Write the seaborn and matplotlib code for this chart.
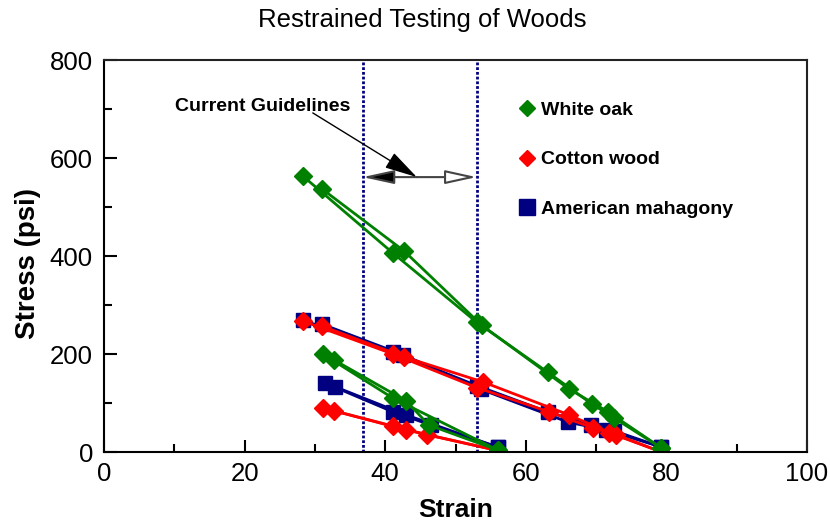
import matplotlib
matplotlib.use("Agg")
import matplotlib.pyplot as plt
from matplotlib.lines import Line2D
from matplotlib.ticker import MultipleLocator
import seaborn as sns
import pandas as pd

# === Data ===
woods = ["American mahagony", "Cotton wood", "White oak"]
colors = {"White oak": "#008000", "Cotton wood": "#ff0000", "American mahagony": "#000080"}
markers = {"White oak": "D", "Cotton wood": "D", "American mahagony": "s"}

# white oak, upper pair
oak_a_x = [28.3, 41.1, 53.0, 63.1, 69.4, 72.6, 79.3]
oak_a_y = [563, 406, 265, 163, 98, 69, 8]
oak_b_x = [31.0, 42.7, 53.7, 66.1, 71.7, 79.3]
oak_b_y = [537, 410, 259, 129, 82, 8]
# white oak, lower pair
oak_c_x = [31.1, 41.1, 56.0]
oak_c_y = [200, 110, 4]
oak_d_x = [32.7, 43.0, 46.2, 56.0]
oak_d_y = [188, 104, 55, 4]

# cotton wood, upper pair
cot_a_x = [28.3, 41.1, 53.1, 63.3, 69.6, 72.9, 79.3]
cot_a_y = [267, 200, 131, 82, 49, 35, 0]
cot_b_x = [31.0, 42.7, 53.9, 66.1, 71.9, 79.3]
cot_b_y = [257, 194, 143, 76, 39, 0]
# cotton wood, lower pair
cot_c_x = [31.1, 41.1, 46.0, 56.0]
cot_c_y = [90, 53, 35, 3]
cot_d_x = [32.7, 43.0, 56.0]
cot_d_y = [84, 45, 3]

# american mahagony, upper pair
mah_a_x = [28.3, 41.1, 53.1, 63.1, 69.3, 72.6, 79.3]
mah_a_y = [269, 204, 135, 82, 55, 43, 10]
mah_b_x = [31.0, 42.6, 53.6, 66.0, 71.4, 79.3]
mah_b_y = [261, 198, 128, 61, 45, 10]
# american mahagony, lower pair
mah_c_x = [31.4, 41.1, 46.5, 56.0]
mah_c_y = [141, 82, 55, 10]
mah_d_x = [32.9, 42.9, 56.0]
mah_d_y = [133, 76, 10]

guide_lo, guide_hi = 36.8, 53.0

tests = [
    ("White oak", "a", oak_a_x, oak_a_y), ("White oak", "b", oak_b_x, oak_b_y),
    ("White oak", "c", oak_c_x, oak_c_y), ("White oak", "d", oak_d_x, oak_d_y),
    ("Cotton wood", "a", cot_a_x, cot_a_y), ("Cotton wood", "b", cot_b_x, cot_b_y),
    ("Cotton wood", "c", cot_c_x, cot_c_y), ("Cotton wood", "d", cot_d_x, cot_d_y),
    ("American mahagony", "a", mah_a_x, mah_a_y), ("American mahagony", "b", mah_b_x, mah_b_y),
    ("American mahagony", "c", mah_c_x, mah_c_y), ("American mahagony", "d", mah_d_x, mah_d_y),
]
rows = []
for wood, test, xs, ys in tests:
    for x, y in zip(xs, ys):
        rows.append({"wood": wood, "test": test, "strain": x, "stress": y})
df = pd.DataFrame(rows)

# === Plot ===
sns.set_style("ticks")
plt.rcParams["font.family"] = ["Liberation Sans", "DejaVu Sans"]
plt.rcParams.update({"text.color": "black", "axes.labelcolor": "black",
                     "xtick.color": "black", "ytick.color": "black", "axes.edgecolor": "black"})

fig = plt.figure(figsize=(8.3, 5.22), dpi=100)
ax = fig.add_axes([104 / 830, 70 / 522, 703 / 830, 392 / 522])

for wood in woods:
    sub = df[df["wood"] == wood]
    ms = 10.5 if markers[wood] == "s" else 9
    sns.lineplot(data=sub, x="strain", y="stress", units="test", estimator=None,
                 sort=False, color=colors[wood], marker=markers[wood], markersize=ms,
                 markeredgecolor=colors[wood], markeredgewidth=1, lw=2, legend=False, ax=ax)

# guideline band
for gx in (guide_lo, guide_hi):
    ax.axvline(gx, color="#000080", ls=(0, (1.0, 0.7)), lw=2, zorder=1)

mid = 44.5
ax.annotate("", xy=(guide_lo, 561), xytext=(mid, 561),
            arrowprops=dict(arrowstyle="-|>,head_length=1.6,head_width=0.35", mutation_scale=12,
                            fc="black", ec="#444444", lw=1.5, shrinkA=0, shrinkB=0))
ax.annotate("", xy=(guide_hi, 561), xytext=(mid, 561),
            arrowprops=dict(arrowstyle="-|>,head_length=1.6,head_width=0.35", mutation_scale=12,
                            fc="white", ec="#444444", lw=1.5, shrinkA=0, shrinkB=0))
ax.annotate("", xy=(mid, 561), xytext=(29.7, 692),
            arrowprops=dict(arrowstyle="-|>,head_length=1.7,head_width=0.45", mutation_scale=12,
                            fc="black", ec="black", lw=1, shrinkA=0, shrinkB=0))
ax.text(10.1, 706, "Current Guidelines", fontsize=14, fontweight="bold", ha="left", va="center")

ax.set_xlim(0, 100)
ax.set_ylim(0, 800)
ax.xaxis.set_major_locator(MultipleLocator(20))
ax.xaxis.set_minor_locator(MultipleLocator(10))
ax.yaxis.set_major_locator(MultipleLocator(200))
ax.yaxis.set_minor_locator(MultipleLocator(100))
ax.tick_params(which="both", direction="in", width=1.5, top=False, right=False, labelsize=18.5)
ax.tick_params(axis="x", which="major", length=9, pad=7)
ax.tick_params(axis="y", which="major", length=9, pad=8)
ax.tick_params(which="minor", length=6)
for s in ax.spines.values():
    s.set_visible(True)
    s.set_linewidth(1.5)
ax.spines["right"].set_color("#222222")
ax.spines["top"].set_color("#222222")

ax.set_xlabel("Strain", fontsize=19, fontweight="bold", labelpad=9)
ax.set_ylabel("Stress (psi)", fontsize=20, fontweight="bold")
ax.yaxis.set_label_coords(-0.09, 0.48)
fig.text(0.509, 1 - 20 / 522, "Restrained Testing of Woods", fontsize=18.5, ha="center", va="center")

handles = [
    Line2D([], [], ls="none", marker="D", ms=8, color=colors["White oak"]),
    Line2D([], [], ls="none", marker="D", ms=8, color=colors["Cotton wood"]),
    Line2D([], [], ls="none", marker="s", ms=11, color=colors["American mahagony"]),
]
leg = ax.legend(handles, ["White oak", "Cotton wood", "American mahagony"],
                loc="upper left", bbox_to_anchor=(0.563, 0.94), frameon=False,
                prop={"weight": "bold", "size": 14}, labelspacing=1.65,
                handlelength=1.0, handletextpad=0.2)

fig.savefig("out.png", dpi=100)
